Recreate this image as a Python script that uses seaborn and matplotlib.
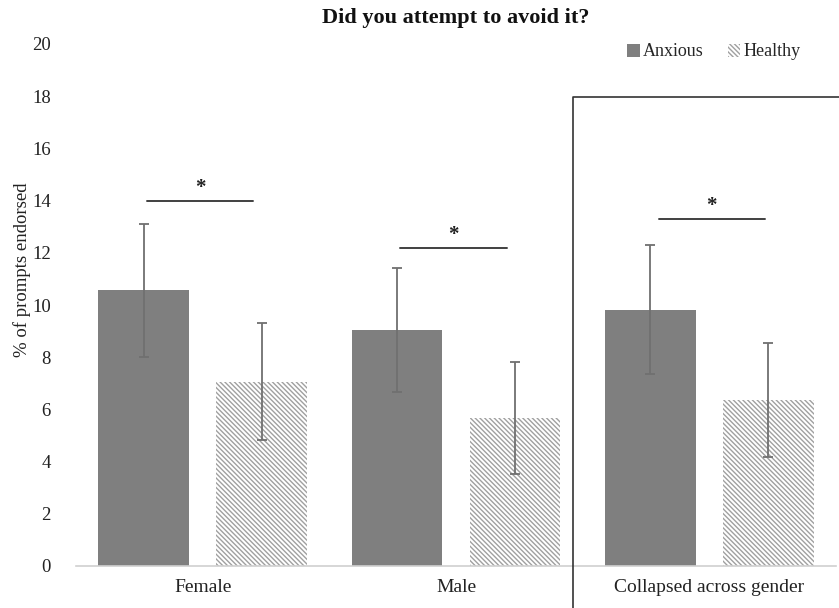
import matplotlib
matplotlib.use("Agg")
import matplotlib.pyplot as plt
from matplotlib.lines import Line2D
from matplotlib.patches import Patch
import numpy as np
import pandas as pd
import seaborn as sns

# Data
categories = ["Female", "Male", "Collapsed across gender"]
groups = ["Anxious", "Healthy"]
anxious_mean = [10.57, 9.04, 9.81]
anxious_err = [2.55, 2.38, 2.47]
healthy_mean = [7.06, 5.67, 6.36]
healthy_err = [2.25, 2.15, 2.18]
sig_heights = [14.0, 12.2, 13.3]
sig_spans = [(-0.22, 0.20), (-0.22, 0.20), (-0.20, 0.22)]
y_ticks = [0, 2, 4, 6, 8, 10, 12, 14, 16, 18, 20]

df = pd.DataFrame({
    "category": categories * 2,
    "group": [groups[0]] * 3 + [groups[1]] * 3,
    "value": anxious_mean + healthy_mean,
    "err": anxious_err + healthy_err,
})

sns.set_theme(style="white")
plt.rcParams["font.family"] = ["Liberation Serif", "DejaVu Serif"]
plt.rcParams["hatch.linewidth"] = 1.0

W, H = 839, 608
fig = plt.figure(figsize=(W / 100, H / 100), dpi=100)
ax = fig.add_axes([76 / W, 1 - 566 / H, 760 / W, 522 / H])

dark = "#7f7f7f"
hatch_col = "#a0a0a0"
hatch = "\\" * 7
sns.barplot(data=df, x="category", y="value", hue="group", order=categories,
            hue_order=groups, palette=[dark, "white"], width=0.93, gap=0.23,
            errorbar=None, legend=False, ax=ax, saturation=1)

# Style bars and add error bars at each bar's centre
bars = [p for p in ax.patches if p.get_height() > 0]
bars.sort(key=lambda p: p.get_x())
for p in bars:
    x = p.get_x() + p.get_width() / 2
    h = p.get_height()
    row = df[np.isclose(df["value"], h)].iloc[0]
    if row["group"] == "Healthy":
        p.set_facecolor("white")
        p.set_edgecolor(hatch_col)
        p.set_hatch(hatch)
        p.set_linewidth(0)
    else:
        p.set_facecolor(dark)
        p.set_edgecolor(dark)
        p.set_linewidth(0)
    ax.errorbar(x, h, yerr=row["err"], fmt="none", ecolor="#707070",
                elinewidth=1.3, capsize=3.5, capthick=1.3, zorder=5)

# Significance markers
for i, (yh, (a, b)) in enumerate(zip(sig_heights, sig_spans)):
    ax.plot([i + a, i + b], [yh, yh], color="#404040", lw=1.4, zorder=5)
    ax.text(i + (a + b) / 2, yh + 0.5, "*", ha="center", va="center",
            fontsize=15, fontweight="bold", color="#202020")

ax.set_xlim(-0.5, 2.5)
ax.set_ylim(0, 20)
ax.set_yticks(y_ticks)
ax.set_yticklabels([str(t) for t in y_ticks], fontsize=13.5, color="#222222")
ax.tick_params(axis="y", length=0, pad=18)
ax.tick_params(axis="x", length=0, pad=9, labelsize=14, labelcolor="#222222")
ax.set_xlabel("")
ax.set_ylabel("% of prompts endorsed", fontsize=13.5, color="#222222")
ax.yaxis.set_label_coords(-0.059, 0.567)
for s in ["top", "right", "left"]:
    ax.spines[s].set_visible(False)
ax.spines["bottom"].set_color("#d0d0d0")
ax.spines["bottom"].set_linewidth(1.2)

ax.set_title("Did you attempt to avoid it?", fontsize=16, fontweight="bold",
             color="#111111", pad=15)

# Box around the collapsed group
bx = 573 / W
by = 1 - 97 / H
fig.add_artist(Line2D([bx, bx, 1.0], [0, by, by], color="#333333", lw=1.2))

# Legend
handles = [Patch(facecolor=dark, edgecolor=dark, lw=0, label="Anxious"),
           Patch(facecolor="white", edgecolor=hatch_col, hatch=hatch,
                 lw=0, label="Healthy")]
fig.legend(handles=handles, loc="center", bbox_to_anchor=(714 / W, 1 - 52 / H),
           ncol=2, frameon=False, fontsize=13, handlelength=0.7,
           handleheight=0.7, handletextpad=0.2, columnspacing=1.3)

fig.savefig("out.png", dpi=100)
